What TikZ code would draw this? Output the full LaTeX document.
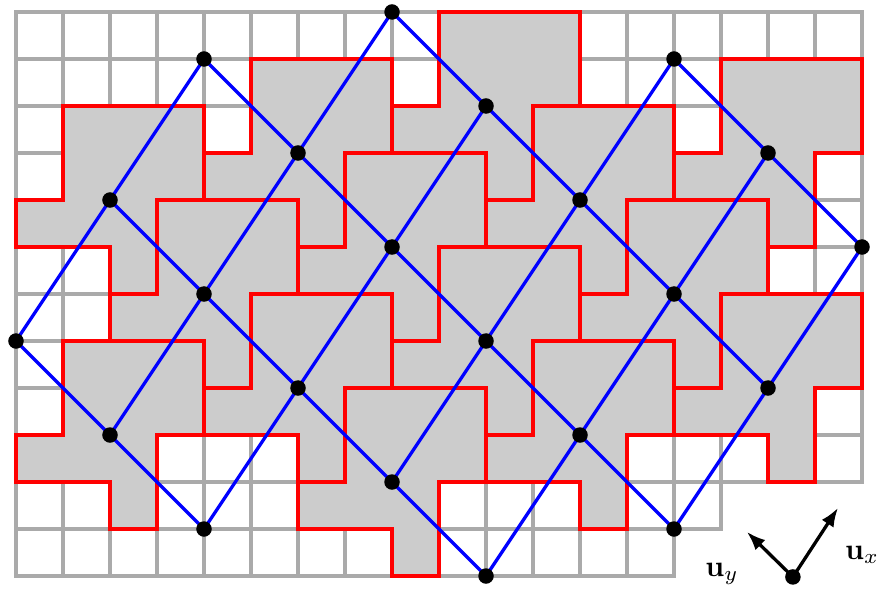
\documentclass[tikz,border=0pt]{standalone}
\usetikzlibrary{arrows.meta}
\definecolor{gridgray}{RGB}{170,170,170}
\definecolor{tilegray}{RGB}{204,204,204}
\newcommand\tilepath[1]{(#1) ++(-1,-2) -- ++(3,0) -- ++(0,2) -- ++(-1,0) -- ++(0,2) -- ++(-1,0) -- ++(0,-1) -- ++(-2,0) -- ++(0,-1) -- ++(1,0) -- cycle}
\begin{document}
\begin{tikzpicture}[x=1cm,y=-1cm,
  gridline/.style={draw=gridgray,line width=2.1pt,line cap=rect},
  tilefill/.style={fill=tilegray},
  tileedge/.style={draw=red,line width=2.2pt},
  latline/.style={draw=blue,line width=2pt},
  dot/.style={circle,fill=black,inner sep=0pt,minimum size=0.33cm},
  vec/.style={draw=black,line width=2pt,-{Latex[length=0.4cm,width=0.3cm]}},
  lab/.style={scale=1.8,inner sep=0pt}]
\useasboundingbox (-0.3404,-0.2553) rectangle (18.404,12.340);
% grid
\draw[gridline] (0,0) grid (18,10);
\draw[gridline] (0,10) grid (15,11);
\draw[gridline] (0,11) grid (14,12);
% lattice points
\foreach \i/\j in {0/0,0/1,0/2,1/0,1/1,1/2,1/3,1/4,2/0,2/1,2/2,2/3,2/4,2/5,3/1,3/2,3/3,3/4,3/5,4/3,4/4,4/5}
  \coordinate (p-\i-\j) at ({2*\i+2*\j},{7-3*\i+2*\j});
% tiles
\foreach \i/\j in {1/0,0/1,1/1,1/2,1/3,2/1,2/2,2/3,2/4,3/2,3/3,3/4,3/5,4/4}
  \fill[tilefill] \tilepath{p-\i-\j};
\foreach \i/\j in {1/0,0/1,1/1,1/2,1/3,2/1,2/2,2/3,2/4,3/2,3/3,3/4,3/5,4/4}
  \draw[tileedge] \tilepath{p-\i-\j};
% lattice lines
\draw[latline] (p-0-0) -- (p-2-0);
\draw[latline] (p-0-1) -- (p-3-1);
\draw[latline] (p-0-2) -- (p-3-2);
\draw[latline] (p-1-3) -- (p-4-3);
\draw[latline] (p-1-4) -- (p-4-4);
\draw[latline] (p-2-5) -- (p-4-5);
\draw[latline] (p-0-0) -- (p-0-2);
\draw[latline] (p-1-0) -- (p-1-4);
\draw[latline] (p-2-0) -- (p-2-5);
\draw[latline] (p-3-1) -- (p-3-5);
\draw[latline] (p-4-3) -- (p-4-5);
% dots
\foreach \i/\j in {0/0,0/1,0/2,1/0,1/1,1/2,1/3,1/4,2/0,2/1,2/2,2/3,2/4,2/5,3/1,3/2,3/3,3/4,3/5,4/3,4/4,4/5}
  \node[dot] (d-\i-\j) at (p-\i-\j) {};
% legend
\coordinate (o) at (16.53,12.02);
\coordinate (ux) at (17.49,10.55);
\coordinate (uy) at (15.55,11.06);
\draw[vec] (o) -- (ux);
\draw[vec] (o) -- (uy);
\node[dot] (origin) at (o) {};
\node[lab] (lx) at (18.0,11.55) {$\mathbf{u}_x$};
\node[lab] (ly) at (15.02,11.96) {$\mathbf{u}_y$};
\end{tikzpicture}
\end{document}
